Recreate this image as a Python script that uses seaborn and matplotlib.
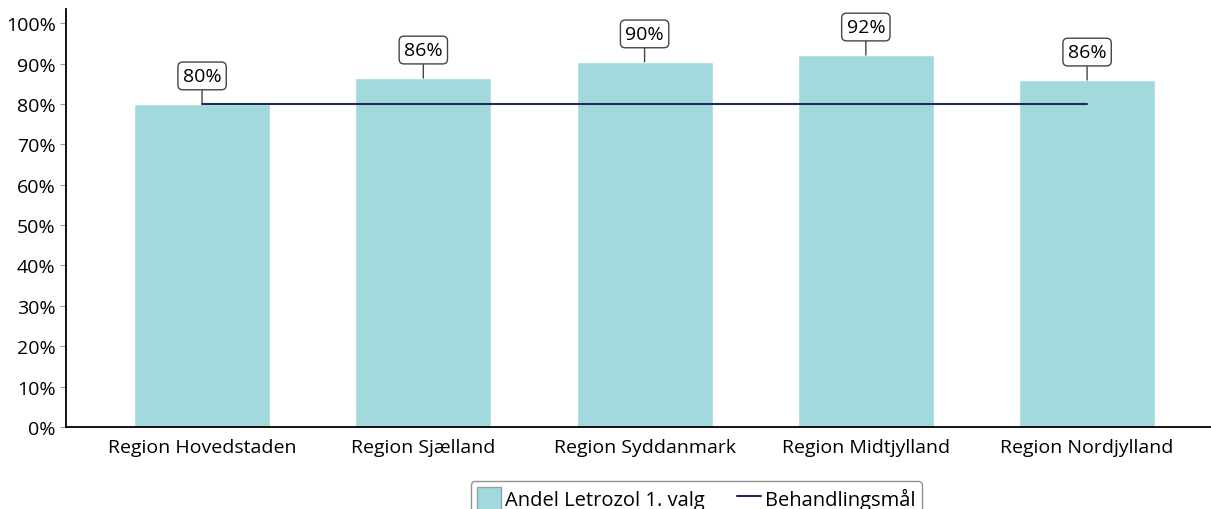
import numpy as np
import pandas as pd
import matplotlib
matplotlib.use("Agg")
from matplotlib import pyplot as plt
from matplotlib.patches import Patch
from matplotlib.lines import Line2D
from matplotlib.ticker import PercentFormatter
import seaborn as sns

# Data
regions = ["Region Hovedstaden", "Region Sjælland", "Region Syddanmark",
           "Region Midtjylland", "Region Nordjylland"]
andel = [0.80, 0.864, 0.904, 0.921, 0.859]
maal = [0.80, 0.80, 0.80, 0.80, 0.80]

df = pd.DataFrame({"region": regions, "andel": andel, "maal": maal})

bar_color = "#a2d9dc"
line_color = "#1f2a5c"

sns.set_style("white")
plt.rcParams["font.family"] = ["Open Sans", "DejaVu Sans"]
plt.rcParams["text.color"] = "black"
plt.rcParams["xtick.color"] = "black"
plt.rcParams["ytick.color"] = "black"

fig = plt.figure(figsize=(12.11, 5.10), dpi=100)
ax = fig.add_axes([66 / 1211, 82 / 510, 1 - 66 / 1211, 418 / 510])

sns.barplot(data=df, x="region", y="andel", color=bar_color, width=0.615,
            saturation=1, ax=ax)
ax.plot(range(len(regions)), df["maal"], color=line_color, lw=1.5)

# value labels
for i, v in enumerate(andel):
    ax.annotate(f"{v * 100:.0f}%", xy=(i, v), xytext=(0, 28),
                textcoords="offset pixels",
                ha="center", va="center", fontsize=14,
                bbox=dict(boxstyle="round,pad=0.25,rounding_size=0.25",
                          fc="white", ec="#444444", lw=1),
                arrowprops=dict(arrowstyle="-", color="#444444", lw=1,
                                shrinkA=0, shrinkB=0))

ax.set_ylim(0, 1.035)
ax.set_xlim(-0.615, 4.56)
ax.set_yticks(np.arange(0, 1.01, 0.1))
ax.yaxis.set_major_formatter(PercentFormatter(1.0, decimals=0))
ax.set_xlabel("")
ax.set_ylabel("")
ax.tick_params(axis="y", labelsize=14, length=4, color="#999999", left=True)
ax.tick_params(axis="x", labelsize=14, length=0, pad=8)
for s in ["top", "right"]:
    ax.spines[s].set_visible(False)
for s in ["left", "bottom"]:
    ax.spines[s].set_color("black")
    ax.spines[s].set_linewidth(1.3)

handles = [Patch(facecolor=bar_color, edgecolor="#8aa5a7", lw=1),
           Line2D([0], [0], color=line_color, lw=1.5)]
fig.legend(handles, ["Andel Letrozol 1. valg", "Behandlingsmål"],
           loc="upper center", bbox_to_anchor=(0.575, 28 / 510), ncol=2,
           fontsize=14.5, frameon=True, fancybox=True, edgecolor="#777777",
           handlelength=1.2, handleheight=1.4, handletextpad=0.2,
           columnspacing=1.6, borderaxespad=0, borderpad=0.3)

fig.savefig("out.png", dpi=100)
